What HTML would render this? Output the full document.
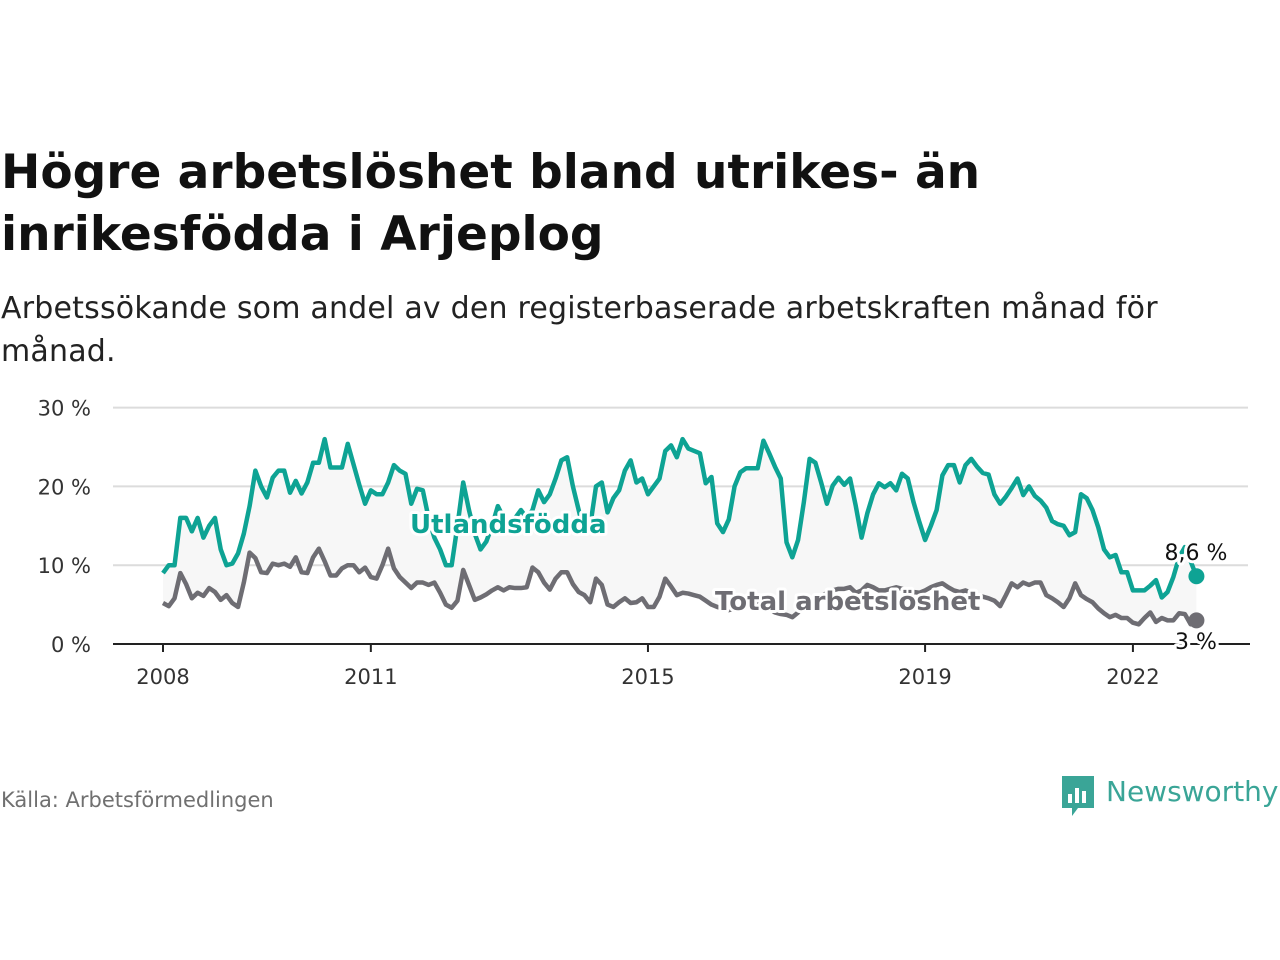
<!DOCTYPE html>
<html><head><meta charset="utf-8"><style>
body{margin:0;width:1280px;height:960px;background:#fff;font-family:"DejaVu Sans","Liberation Sans",sans-serif;overflow:hidden;position:relative}
.t{position:absolute;left:1px;top:142px;font-size:47px;font-weight:bold;line-height:62px;color:#111;white-space:nowrap;letter-spacing:0px}
.s{position:absolute;left:1px;top:287px;font-size:30px;line-height:43px;color:#222;white-space:nowrap;letter-spacing:0.2px}
.src{position:absolute;left:1px;top:788px;font-size:21px;color:#707070}
</style></head><body>
<div class="t">Högre arbetslöshet bland utrikes- än<br>inrikesfödda i Arjeplog</div>
<div class="s">Arbetssökande som andel av den registerbaserade arbetskraften månad för<br>månad.</div>
<svg id="chart" width="1280" height="960" style="position:absolute;left:0;top:0;font-family:'DejaVu Sans','Liberation Sans',sans-serif"></svg>
<div class="src">Källa: Arbetsförmedlingen</div>
<div style="position:absolute;left:1060px;top:774px;height:44px">
<svg width="36" height="44" style="position:absolute;left:0;top:0"><path d="M2 2h32v32h-16l-6 8v-8h-10z" fill="#3aa597"/><rect x="8" y="20" width="4" height="9" fill="#fff"/><rect x="15" y="14" width="4" height="15" fill="#fff"/><rect x="22" y="17" width="4" height="12" fill="#fff"/></svg>
<span style="position:absolute;left:46px;top:1px;font-size:28px;color:#3aa597;white-space:nowrap">Newsworthy</span></div>
<script>
const startYear = 2008;
const foreign = [9,10,10,16,16,14.3,16,13.5,15,16,12,10,
10.2,11.5,14,17.5,22,20,18.6,21.1,22,22,19.2,20.7,
19.1,20.5,23,23,26,22.4,22.4,22.4,25.4,22.8,20.2,17.8,
19.5,19,19,20.5,22.7,22,21.6,17.8,19.7,19.5,16,13.5,
12,10,10,15,20.5,17,14,12,13,15,17.5,16,
15,16,17,16,17,19.5,18,19,21,23.3,23.7,20,
17,14,15,20,20.5,16.7,18.5,19.5,22,23.3,20.5,21,
19,20,21,24.5,25.2,23.7,26,24.8,24.5,24.2,20.4,21.2,
15.3,14.2,15.8,20,21.8,22.3,22.3,22.3,25.8,24.2,22.5,21,
12.9,11,13.2,18,23.5,23,20.5,17.8,20.1,21.1,20.2,21,
17.5,13.5,16.6,19,20.4,19.9,20.4,19.5,21.6,21,18,15.5,
13.2,15,17,21.4,22.7,22.7,20.5,22.7,23.5,22.5,21.7,21.5,
19,17.8,18.7,19.8,21,18.9,20,18.8,18.2,17.3,15.6,15.2,
15,13.8,14.2,19,18.5,17,14.8,12,11,11.3,9.1,9.1,
6.8,6.8,6.8,7.4,8.1,5.9,6.6,8.5,11,12.3,10.5,8.6];
const total = [5.2,4.8,5.8,9,7.6,5.8,6.5,6.1,7.1,6.6,5.6,6.2,
5.2,4.7,7.8,11.6,10.9,9.1,9,10.2,10,10.2,9.8,11,
9.1,9,11,12.1,10.5,8.7,8.7,9.6,10,10,9.1,9.7,
8.5,8.3,10,12.1,9.6,8.5,7.8,7.1,7.8,7.8,7.5,7.8,
6.5,5,4.6,5.5,9.4,7.5,5.6,5.9,6.3,6.8,7.2,6.8,
7.2,7.1,7.1,7.2,9.7,9.1,7.8,6.9,8.3,9.1,9.1,7.6,
6.6,6.2,5.3,8.3,7.5,5,4.7,5.3,5.8,5.2,5.3,5.8,
4.7,4.7,6,8.3,7.3,6.2,6.5,6.4,6.2,6,5.5,5,
4.7,4.5,4.3,4.5,4.6,4.8,5,5.2,5,4.5,4,3.8,
3.7,3.4,4,4.8,5.5,5.8,6,6.5,6.8,7,7,7.2,
6.5,6.8,7.5,7.2,6.8,6.8,7,7.2,7,6.8,6.6,6.5,
6.8,7.2,7.5,7.7,7.2,6.8,6.6,6.8,6.5,6.2,6,5.8,
5.5,4.8,6.2,7.7,7.2,7.8,7.5,7.8,7.8,6.2,5.8,5.3,
4.7,5.8,7.7,6.2,5.7,5.3,4.5,3.9,3.4,3.7,3.3,3.3,
2.7,2.5,3.3,4,2.8,3.3,3,3,3.9,3.8,2.5,3];
const yTicks = [0,10,20,30];
const xTicks = [2008,2011,2015,2019,2022];

const svg = document.getElementById('chart');
const NS = 'http://www.w3.org/2000/svg';
const x = m => 163 + (m/12)*69.28;
const y = v => 644 - v*7.88;
function mk(tag, attrs, parent){const e=document.createElementNS(NS,tag);for(const k in attrs)e.setAttribute(k,attrs[k]);(parent||svg).appendChild(e);return e;}

yTicks.forEach(t=>{
  if(t>0){const g=mk('line',{x1:113,x2:1248,y1:y(t),y2:y(t),stroke:'#dcdcdc','stroke-width':2});
  
  }
  const l=mk('text',{x:91,y:y(t)+8,'text-anchor':'end','font-size':21,fill:'#333'});
  l.textContent=t+' %';
  
  
});
let pts=foreign.map((v,i)=>x(i)+','+y(v)).concat(total.map((v,i)=>x(i)+','+y(v)).reverse());
const area=mk('polygon',{points:pts.join(' '),fill:'#f7f7f7'});



const ax=mk('line',{x1:113,x2:1250,y1:644,y2:644,stroke:'#222','stroke-width':2});


xTicks.forEach(yr=>{
  const xx=x((yr-startYear)*12);
  mk('line',{x1:xx,x2:xx,y1:644,y2:652,stroke:'#222','stroke-width':2});
  const l=mk('text',{x:xx,y:684,'text-anchor':'middle','font-size':21,fill:'#333'});
  l.textContent=yr;
  
  
});
function line(data,color,name){
  const p=mk('polyline',{points:data.map((v,i)=>x(i)+','+y(v)).join(' '),fill:'none',stroke:color,'stroke-width':4.5,'stroke-linejoin':'round'});
  
  
  const d=mk('circle',{cx:x(data.length-1),cy:y(data[data.length-1]),r:8,fill:color});
  
  
}
line(total,'#6e6d73','total-line');
line(foreign,'#0ea394','foreign-line');
function label(txt,xx,yy,color,size,weight,anchor,name){
  const t=mk('text',{x:xx,y:yy,fill:color,'font-size':size,'font-weight':weight,'text-anchor':anchor||'start',stroke:'#fff','stroke-width':6,'paint-order':'stroke','stroke-linejoin':'round'});
  t.textContent=txt;
  
  
}
label('Utlandsfödda',410,533,'#0ea394',26,'bold','start','foreign-series-label');
label('Total arbetslöshet',715,610,'#6e6d73',26,'bold','start','total-series-label');
label('8,6 %',1196,560,'#111',22,'normal','middle','foreign-end-value');
label('3 %',1196,649,'#111',22,'normal','middle','total-end-value');
</script>
</body></html>
